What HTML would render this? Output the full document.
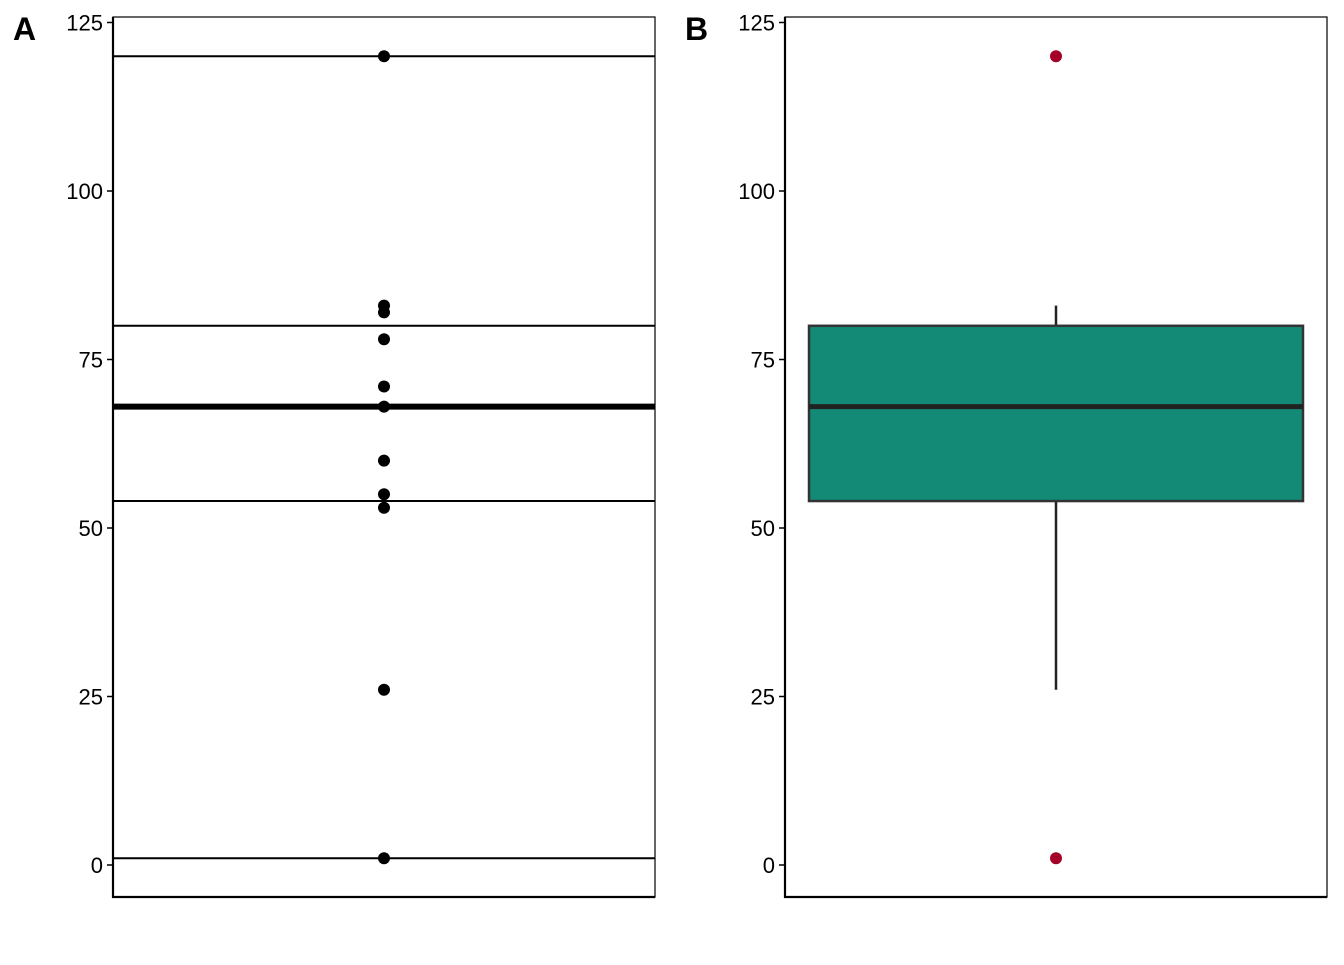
<!DOCTYPE html>
<html><head><meta charset="utf-8"><style>
body{margin:0;background:#fff;}
svg text{font-family:"Liberation Sans",Arial,sans-serif;}
</style></head><body>
<svg id="chart" width="1344" height="960" xmlns="http://www.w3.org/2000/svg"></svg>
<script>
const values = [120, 83, 82, 78, 71, 68, 60, 55, 53, 26, 1];
const boxStats = [54, 68, 80];
const whisker = [26, 83];
const outliers = [120, 1];
const yTicks = [0, 25, 50, 75, 100, 125];
const linesA = [120, 80, 68, 54, 1];

const NS = "http://www.w3.org/2000/svg";
const svg = document.getElementById('chart');
function y(v){ return 865 - v * 6.74; }
function mk(tag, attrs, parent){
  const e = document.createElementNS(NS, tag);
  for (const k in attrs) e.setAttribute(k, attrs[k]);
  (parent||svg).appendChild(e); return e;
}
function panel(x0, x1, label, name){
  const g = mk('g', {});
  
  
  const frame = mk('rect', {x:x0, y:17, width:x1-x0, height:880, fill:'none', stroke:'#000', 'stroke-width':1.2}, g);
  
  
  const ax = mk('line', {x1:x0, x2:x0, y1:17, y2:898, stroke:'#000', 'stroke-width':2.2}, g);
  
  
  const bx = mk('line', {x1:x0-1, x2:x1, y1:897, y2:897, stroke:'#000', 'stroke-width':2.2}, g);
  
  
  yTicks.forEach(t => {
    const tk = mk('line', {x1:x0-6, x2:x0, y1:y(t), y2:y(t), stroke:'#000', 'stroke-width':1.5}, g);
    
    
    const tx = mk('text', {x:x0-10, y:y(t)+8, 'text-anchor':'end', 'font-size':22, fill:'#000'}, g);
    tx.textContent = t;
    
    
  });
  const pl = mk('text', {x:x0-100, y:40, 'font-size':32, 'font-weight':'bold', fill:'#000'}, g);
  pl.textContent = label;
  
  
  return g;
}
// Panel A
const gA = panel(113, 655, 'A', 'panel-a');
linesA.forEach(v => {
  const l = mk('line', {x1:113, x2:655, y1:y(v), y2:y(v), stroke:'#000', 'stroke-width': v===boxStats[1]?6:2}, gA);
  
  
});
values.forEach(v => {
  const c = mk('circle', {cx:384, cy:y(v), r:6, fill:'#000'}, gA);
  
  
});
// Panel B
const gB = panel(785, 1327, 'B', 'panel-b');
const wh = mk('line', {x1:1056, x2:1056, y1:y(whisker[0]), y2:y(whisker[1]), stroke:'#222', 'stroke-width':2.5}, gB);


const box = mk('rect', {x:809, y:y(boxStats[2]), width:494, height:y(boxStats[0])-y(boxStats[2]), fill:'#138A76', stroke:'#333', 'stroke-width':2.5}, gB);


const med = mk('line', {x1:809, x2:1303, y1:y(boxStats[1]), y2:y(boxStats[1]), stroke:'#222', 'stroke-width':5}, gB);


outliers.forEach(v => {
  const c = mk('circle', {cx:1056, cy:y(v), r:6, fill:'#A50026'}, gB);
  
  
});
</script>
</body></html>
